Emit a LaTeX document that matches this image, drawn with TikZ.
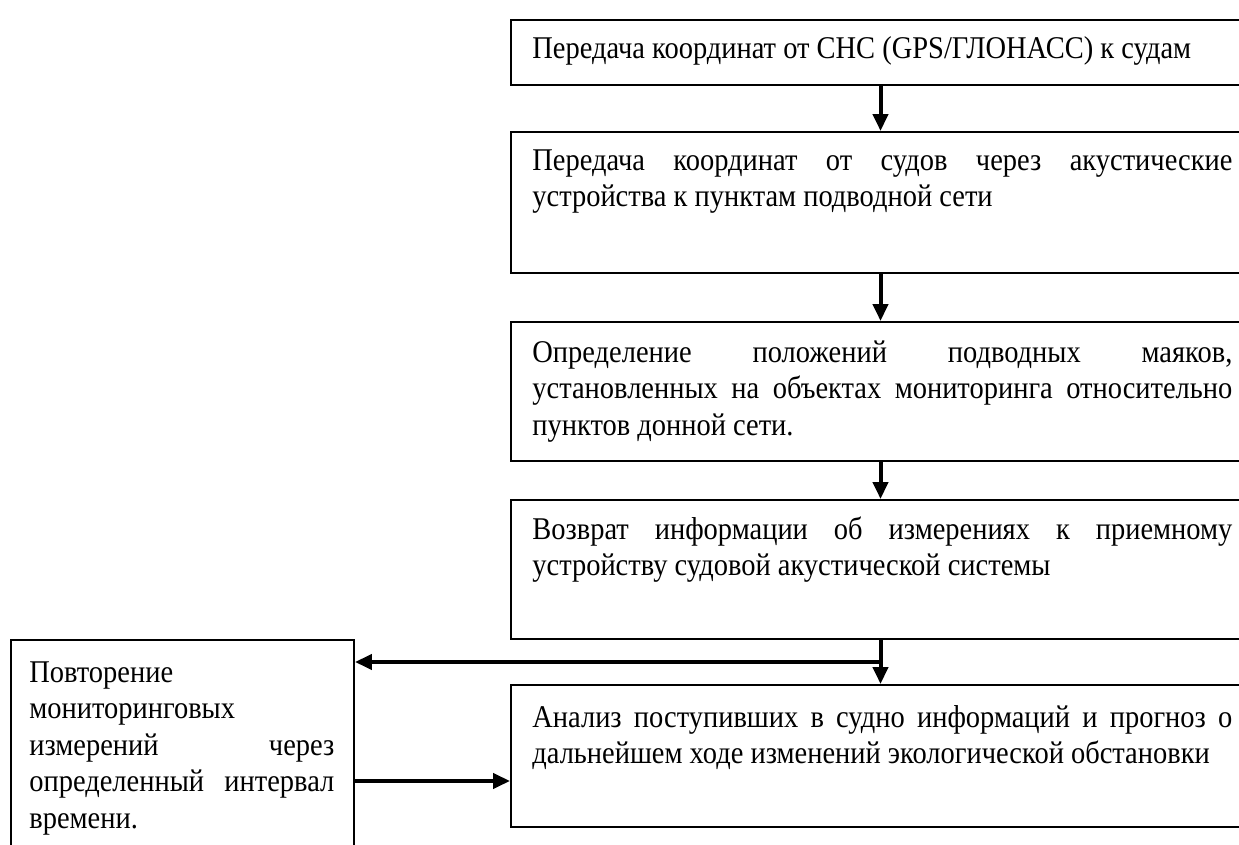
\documentclass[tikz,border=0pt]{standalone}
\usepackage{fontspec}
\setmainfont{Liberation Serif}[FakeStretch=0.9]
\usetikzlibrary{arrows.meta, positioning, calc}
\tikzset{
	stage/.style={
		draw,
		rectangle,
		line width=1.1pt,
		inner sep=0pt
	},
	stagetext/.style={
		anchor=north west,
		inner sep=0pt,
		align=justify,
		font=\fontsize{18pt}{20.8pt}\selectfont
	}
}

\begin{document}
\begin{tikzpicture}
	\tikzset{flow/.style={-{Triangle[length=0.34cm, width=0.3cm]}, line width=0.08cm}}
	\clip (0,0) rectangle (24.78,16.9);
	\useasboundingbox (0,0) rectangle (24.78,16.9);
	
	\node(s1) at (17.61,15.85) [stage, minimum width=14.78cm, minimum height=1.3cm] {};
	\node(s2) at (17.61,12.85) [stage, minimum width=14.78cm, minimum height=2.82cm] {};
	\node(s3) at (17.61,9.07) [stage, minimum width=14.78cm, minimum height=2.78cm] {};
	\node(s4) at (17.61,5.51) [stage, minimum width=14.78cm, minimum height=2.78cm] {};
	\node(s5) at (17.61,1.78) [stage, minimum width=14.78cm, minimum height=2.84cm] {};
	\node(rep) at (3.65,1.8) [stage, minimum width=6.86cm, minimum height=4.6cm] {};
	
	\node(s1_text) [stagetext, text width=14.0cm, below right=0.34cm and 0.44cm of s1.north west]
		{Передача координат от СНС (GPS/ГЛОНАСС) к судам};
	\node(s2_text) [stagetext, text width=14.0cm, below right=0.36cm and 0.44cm of s2.north west]
		{Передача координат от судов через акустические\linebreak устройства к пунктам подводной сети};
	\node(s3_text) [stagetext, text width=14.0cm, below right=0.38cm and 0.44cm of s3.north west]
		{Определение положений подводных маяков,\linebreak установленных на объектах мониторинга относительно\linebreak пунктов донной сети.};
	\node(s4_text) [stagetext, text width=14.0cm, below right=0.34cm and 0.44cm of s4.north west]
		{Возврат информации об измерениях к приемному\linebreak устройству судовой акустической системы};
	\node(s5_text) [stagetext, text width=14.0cm, below right=0.42cm and 0.44cm of s5.north west]
		{Анализ поступивших в судно информаций и прогноз о\linebreak дальнейшем ходе изменений экологической обстановки};
	\node(rep_text) [stagetext, text width=6.1cm, below right=0.44cm and 0.38cm of rep.north west]
		{Повторение\newline мониторинговых\newline измерений через\linebreak определенный интервал\linebreak времени.};
	
	\draw[flow] (s1) -- (s2);
	\draw[flow] (s2) -- (s3);
	\draw[flow] (s3) -- (s4);
	\draw[flow] (s4) -- (s5);
	
	\coordinate (split) at ($(s4.south)!0.5!(s5.north)$);
	\draw[flow] (split) -- (split -| rep.east);
	\draw[flow] ([yshift=-0.52cm]rep.east) -- ([yshift=-0.52cm]rep.east -| s5.west);
	
\end{tikzpicture}
\end{document}
